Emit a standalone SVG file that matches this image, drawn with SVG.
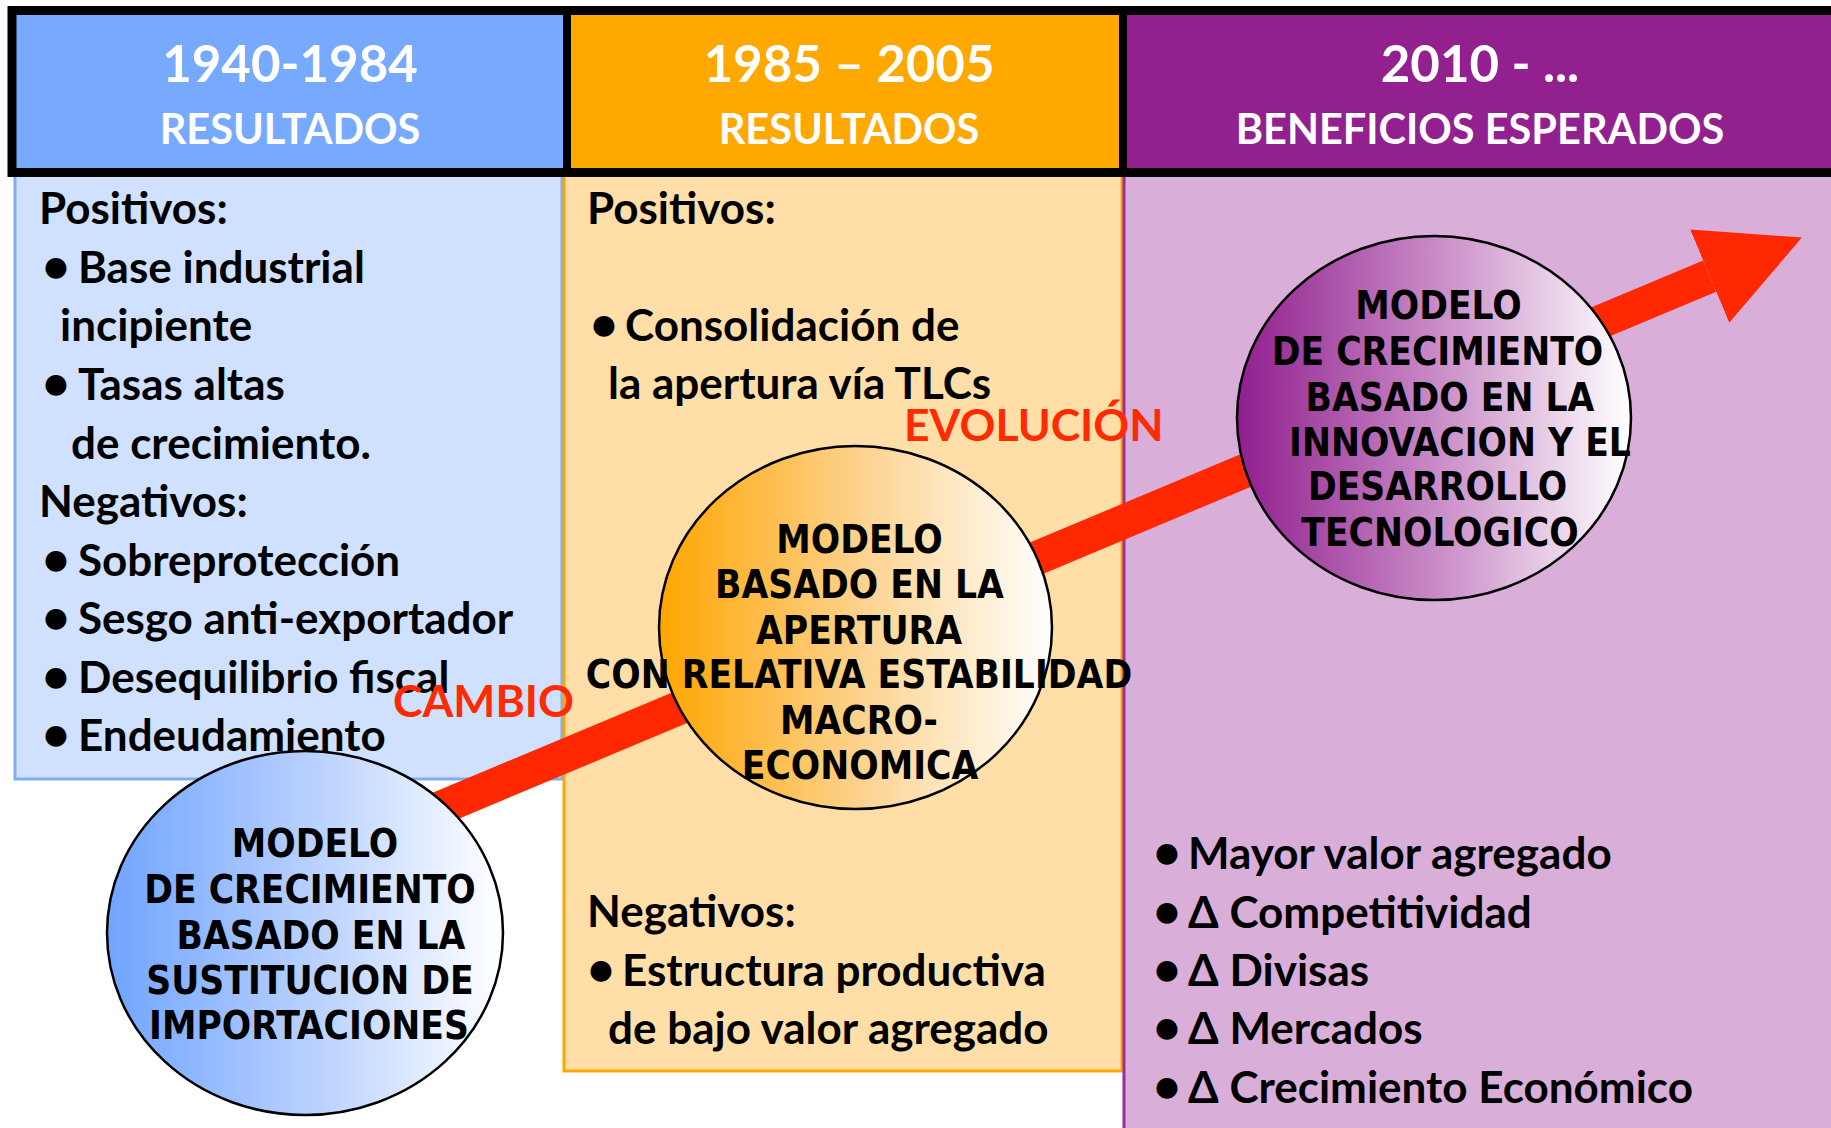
<svg xmlns="http://www.w3.org/2000/svg" width="1831" height="1128" viewBox="0 0 1831 1128">
<defs>
<style>
.hdr{font-family:Lato,"Open Sans","Liberation Sans",sans-serif;font-weight:bold;fill:#fff;text-anchor:middle}
.yr{font-size:51px}
.sub{font-size:41.5px}
.bt{font-family:Lato,"Open Sans","Liberation Sans",sans-serif;font-weight:bold;font-size:44px;fill:#000}
.bl{font-size:48px}
.ct{font-family:"DejaVu Sans Condensed","DejaVu Sans",sans-serif;font-weight:bold;font-size:38.5px;fill:#000;text-anchor:middle}
.red{font-family:Lato,"Liberation Sans",sans-serif;font-weight:bold;font-size:44.5px;fill:#FF2A00}
.circ{stroke:#000;stroke-width:2.5}
</style>
<linearGradient id="gBlue" x1="0" y1="0" x2="1" y2="0"><stop offset="0" stop-color="#70A4FF"/><stop offset="0.5" stop-color="#B6CFFF"/><stop offset="1" stop-color="#FFFFFF"/></linearGradient>
<linearGradient id="gOrange" x1="0" y1="0" x2="1" y2="0"><stop offset="0" stop-color="#FFA500"/><stop offset="0.5" stop-color="#FDD18A"/><stop offset="1" stop-color="#FFFFFF"/></linearGradient>
<linearGradient id="gPurple" x1="0" y1="0" x2="1" y2="0"><stop offset="0" stop-color="#901E8E"/><stop offset="0.5" stop-color="#C88AC6"/><stop offset="1" stop-color="#FFFFFF"/></linearGradient>
<marker id="head" markerUnits="userSpaceOnUse" viewBox="0 0 100 101" refX="0" refY="50.5" markerWidth="100" markerHeight="101" orient="auto"><path d="M0,0 L100,50.5 L0,101 Z" fill="#FF2800"/></marker>
</defs>
<rect width="1831" height="1128" fill="#fff"/>

<g id="col-1940">
<rect x="15" y="172" width="547" height="607" fill="#D0E1FF" stroke="#7FAEF6" stroke-width="3"/>
<text class="bt" x="39" y="224">Positivos:</text>
<text class="bt" y="283"><tspan class="bl" x="42">•</tspan><tspan x="78">Base industrial</tspan></text>
<text class="bt" x="60" y="341">incipiente</text>
<text class="bt" y="400"><tspan class="bl" x="42">•</tspan><tspan x="78">Tasas altas</tspan></text>
<text class="bt" x="71" y="459">de crecimiento.</text>
<text class="bt" x="39" y="517">Negativos:</text>
<text class="bt" y="576"><tspan class="bl" x="42">•</tspan><tspan x="78">Sobreprotección</tspan></text>
<text class="bt" y="634"><tspan class="bl" x="42">•</tspan><tspan x="78">Sesgo anti-exportador</tspan></text>
<text class="bt" y="693"><tspan class="bl" x="42">•</tspan><tspan x="78">Desequilibrio fiscal</tspan></text>
<text class="bt" y="751"><tspan class="bl" x="42">•</tspan><tspan x="78">Endeudamiento</tspan></text>
</g>

<g id="col-1985">
<rect x="564" y="172" width="558" height="899" fill="#FFDFA7" stroke="#FFA500" stroke-width="3"/>
<text class="bt" x="587" y="224">Positivos:</text>
<text class="bt" y="341"><tspan class="bl" x="590">•</tspan><tspan x="625">Consolidación de</tspan></text>
<text class="bt" x="608" y="399">la apertura vía TLCs</text>
<text class="bt" x="587" y="927">Negativos:</text>
<text class="bt" y="986"><tspan class="bl" x="587">•</tspan><tspan x="622">Estructura productiva</tspan></text>
<text class="bt" x="608" y="1044">de bajo valor agregado</text>
</g>

<g id="col-2010">
<rect x="1124" y="172" width="720" height="970" fill="#D9AFD9" stroke="#9A2F9A" stroke-width="3"/>
<text class="bt" y="869"><tspan class="bl" x="1153">•</tspan><tspan x="1188">Mayor valor agregado</tspan></text>
<text class="bt" y="928"><tspan class="bl" x="1153">•</tspan><tspan x="1188">Δ Competitividad</tspan></text>
<text class="bt" y="986"><tspan class="bl" x="1153">•</tspan><tspan x="1188">Δ Divisas</tspan></text>
<text class="bt" y="1044"><tspan class="bl" x="1153">•</tspan><tspan x="1188">Δ Mercados</tspan></text>
<text class="bt" y="1103"><tspan class="bl" x="1153">•</tspan><tspan x="1188">Δ Crecimiento Económico</tspan></text>
</g>

<g id="header">
<rect x="12" y="10.5" width="555" height="162" fill="#77AAFF"/>
<rect x="567" y="10.5" width="556" height="162" fill="#FFA800"/>
<rect x="1123" y="10.5" width="720" height="162" fill="#92208F"/>
<path d="M1840,10.5 H12 V172.5 H1840" fill="none" stroke="#000" stroke-width="9"/>
<line x1="567" y1="10" x2="567" y2="173" stroke="#000" stroke-width="8"/>
<line x1="1123" y1="10" x2="1123" y2="173" stroke="#000" stroke-width="8"/>
<text class="hdr yr" x="290" y="82">1940-1984</text>
<text class="hdr sub" x="290" y="144">RESULTADOS</text>
<text class="hdr yr" x="849" y="82">1985 – 2005</text>
<text class="hdr sub" x="849" y="144">RESULTADOS</text>
<text class="hdr yr" x="1480" y="82">2010 - ...</text>
<text class="hdr sub" x="1480" y="144">BENEFICIOS ESPERADOS</text>
</g>

<g id="connectors">
<line x1="340" y1="850" x2="1709.7" y2="276.1" stroke="#FF2800" stroke-width="34" marker-end="url(#head)"/>
</g>

<g id="label-cambio"><text class="red" x="393" y="717">CAMBIO</text></g>
<g id="label-evolucion"><text class="red" x="904" y="441">EVOLUCIÓN</text></g>

<g id="node-sustitucion">
<ellipse class="circ" cx="305" cy="933" rx="198" ry="182" fill="url(#gBlue)"/>
<text class="ct" x="315" y="857">MODELO</text>
<text class="ct" x="310" y="903">DE CRECIMIENTO</text>
<text class="ct" x="321" y="949">BASADO EN LA</text>
<text class="ct" x="310" y="994">SUSTITUCION DE</text>
<text class="ct" x="309" y="1039">IMPORTACIONES</text>
</g>

<g id="node-apertura">
<ellipse class="circ" cx="855.5" cy="627.5" rx="196.5" ry="181.5" fill="url(#gOrange)"/>
<text class="ct" x="859.5" y="553">MODELO</text>
<text class="ct" x="859.5" y="598">BASADO EN LA</text>
<text class="ct" x="859" y="644">APERTURA</text>
<text class="ct" x="859" y="688">CON RELATIVA ESTABILIDAD</text>
<text class="ct" x="859" y="734">MACRO-</text>
<text class="ct" x="860" y="779">ECONOMICA</text>
</g>

<g id="node-innovacion">
<ellipse class="circ" cx="1434" cy="418" rx="197" ry="182" fill="url(#gPurple)"/>
<text class="ct" x="1438.5" y="319">MODELO</text>
<text class="ct" x="1437.5" y="365">DE CRECIMIENTO</text>
<text class="ct" x="1450" y="411">BASADO EN LA</text>
<text class="ct" x="1460" y="456">INNOVACION Y EL</text>
<text class="ct" x="1437.5" y="500">DESARROLLO</text>
<text class="ct" x="1440" y="546">TECNOLOGICO</text>
</g>
</svg>
